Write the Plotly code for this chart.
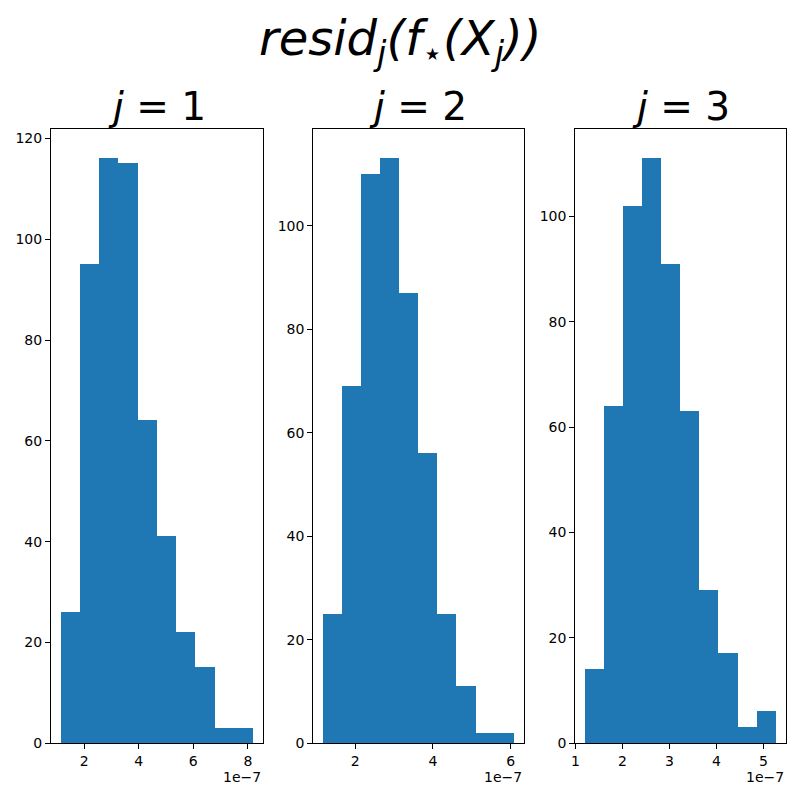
import plotly.graph_objects as go

# Data (x values in units of 1e-7)
edges_1 = [1.14, 1.845, 2.55, 3.255, 3.96, 4.665, 5.37, 6.075, 6.78, 7.485, 8.19]
counts_1 = [26, 95, 116, 115, 64, 41, 22, 15, 3, 3]
edges_2 = [1.17, 1.662, 2.154, 2.646, 3.138, 3.63, 4.122, 4.614, 5.106, 5.598, 6.09]
counts_2 = [25, 69, 110, 113, 87, 56, 25, 11, 2, 2]
edges_3 = [1.20, 1.607, 2.014, 2.421, 2.828, 3.235, 3.642, 4.049, 4.456, 4.863, 5.27]
counts_3 = [14, 64, 102, 111, 91, 63, 29, 17, 3, 6]
panel_titles = ["<i>j</i> = 1", "<i>j</i> = 2", "<i>j</i> = 3"]
x_dticks = [2, 2, 1]
suptitle = "<i>resid<sub>j</sub>(f<sub>⋆</sub>(X<sub>j</sub>))</i>"

W = H = 800
domains_px = [(51, 262.7), (313.3, 523.7), (575.3, 785.7)]
top_px, bot_px = 129.3, 743.3
color = "#1f77b4"
font = "DejaVu Sans"

fig = go.Figure()
panels = [(edges_1, counts_1), (edges_2, counts_2), (edges_3, counts_3)]
for i, (edges, counts) in enumerate(panels):
    n = i + 1
    centers = [(edges[k] + edges[k + 1]) / 2 for k in range(len(counts))]
    widths = [edges[k + 1] - edges[k] for k in range(len(counts))]
    xa = "x" if n == 1 else f"x{n}"
    ya = "y" if n == 1 else f"y{n}"
    fig.add_trace(go.Bar(x=centers, y=counts, width=widths, marker=dict(color=color, line=dict(width=0)),
                         xaxis=xa, yaxis=ya, showlegend=False, hoverinfo="x+y"))
    span = edges[-1] - edges[0]
    xr = [edges[0] - 0.05 * span, edges[-1] + 0.05 * span]
    yr = [0, max(counts) * 1.05]
    l, r = domains_px[i]
    axis_common = dict(showline=True, mirror=True, linecolor="black", linewidth=1.1,
                       ticks="outside", ticklen=5, tickwidth=1.1, tickcolor="black",
                       showgrid=False, zeroline=False, automargin=False,
                       tickfont=dict(family=font, size=14, color="black"))
    fig.update_layout(**{
        ("xaxis" if n == 1 else f"xaxis{n}"): dict(domain=[l / W, r / W], range=xr, dtick=x_dticks[i], tick0=0,
                                                   anchor=ya, **axis_common),
        ("yaxis" if n == 1 else f"yaxis{n}"): dict(domain=[1 - bot_px / H, 1 - top_px / H], range=yr, dtick=20,
                                                   anchor=xa, **axis_common),
    })
    fig.add_annotation(text=panel_titles[i], x=(l + r) / 2 / W, y=1 - 106 / H, xref="paper", yref="paper",
                       xanchor="center", yanchor="middle", showarrow=False,
                       font=dict(family=font, size=39, color="black"))
    fig.add_annotation(text="1e−7", x=r / W, y=1 - 777 / H, xref="paper", yref="paper",
                       xanchor="right", yanchor="middle", showarrow=False,
                       font=dict(family=font, size=14, color="black"))

fig.add_annotation(text=suptitle, x=0.5, y=1 - 42 / H, xref="paper", yref="paper",
                   xanchor="center", yanchor="middle", showarrow=False,
                   font=dict(family=font, size=48, color="black"))

fig.update_layout(width=W, height=H, margin=dict(l=0, r=0, t=0, b=0, autoexpand=False),
                  paper_bgcolor="white", plot_bgcolor="white", bargap=0)
fig.write_html("out.html", config={"displayModeBar": False},
               post_script="document.body.style.margin='0';document.body.style.overflow='hidden';")
